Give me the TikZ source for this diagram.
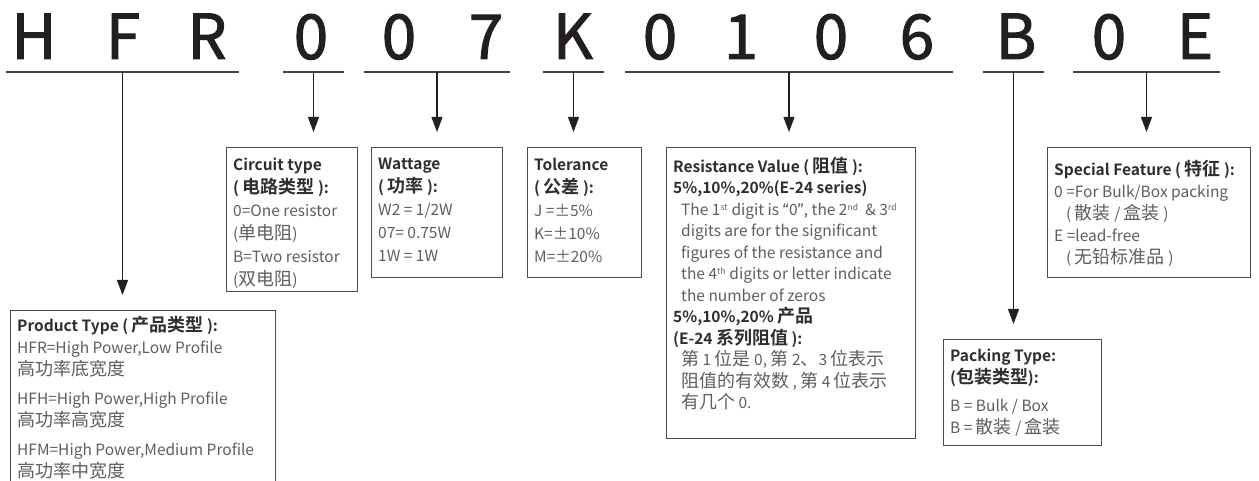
\documentclass[tikz,border=0pt]{standalone}
\usepackage{fontspec}
\setmainfont{Noto Sans CJK SC}[BoldFont={Noto Sans CJK SC Bold}]
\newfontfamily\zhfont{Noto Sans CJK SC}[Scale=1.16, BoldFont={Noto Sans CJK SC Bold}]
\newfontfamily\codefont{Noto Sans CJK SC}[FakeBold=1.6]
\newfontfamily\quotefont{Fira Sans}
\usetikzlibrary{
  arrows.meta,   % Triangle arrow tips
  calc,          % coordinate arithmetic
  positioning    % relative placement
}
\definecolor{ink}{HTML}{231F20}
\definecolor{headc}{HTML}{2E2E2E}
\definecolor{bodyc}{HTML}{5E5E5E}
\newcommand{\boxhead}[1]{{\bfseries\color{headc}#1}}
\newcommand{\zh}[1]{{\zhfont #1}}
\newcommand{\sps}[1]{\textsuperscript{\fontsize{8.5bp}{8.5bp}\selectfont #1}}
\tikzset{
  code letter/.style={
    anchor=base,
    inner sep=0pt,
    text=ink,
    font=\codefont\fontsize{62bp}{62bp}\selectfont
  },
  bar/.style={
    line width=1.4bp,
    draw=ink!85
  },
  lead/.style={
    -{Triangle[length=15bp,width=11bp]},
    line width=1.1bp,
    draw=ink,
    shorten >=15bp
  },
  infobox/.style={
    draw=ink!80,
    line width=0.9bp,
    anchor=north west,
    inner sep=0pt
  },
  infotext/.style={
    anchor=north west,
    align=left,
    inner sep=0pt,
    text=bodyc,
    font=\fontsize{15.5bp}{22bp}\selectfont
  }
}

\begin{document}
\begin{tikzpicture}[x=1bp, y=-1bp]
  \useasboundingbox (0,0) rectangle (1259,481);
  \clip (0,0) rectangle (1259,481);

  % ==== 1. part number ====
  \foreach \ch/\px [count=\i] in {H/34,F/123,R/207,0/311,0/399,7/486,K/573,
                                  0/660,1/741,0/831,6/917,B/1016,0/1109,E/1195}
    \node[code letter] (c\i) at (\px,59) {\ch};

  % underlines, one per field
  \foreach \nm/\xa/\xb in {pt/6/239, ct/283/344, wt/364/510, tl/543/604,
                           rv/625/953, pk/983/1044, sf/1073/1220} {
    \coordinate (\nm-l) at (\xa,72);
    \coordinate (\nm-r) at (\xb,72);
    \coordinate (\nm-m) at ($(\nm-l)!0.5!(\nm-r)$);
    \draw[bar] (\nm-l) -- (\nm-r);
  }

  % ==== 2. field boxes ====
  \node[infobox, minimum width=265bp, minimum height=200bp] (pt) at (10,310) {};
  \node[infobox, minimum width=131bp, minimum height=144bp] (ct) at (226,147) {};
  \node[infobox, minimum width=131bp, minimum height=130bp] (wt) at (371,147) {};
  \node[infobox, minimum width=114bp, minimum height=130bp] (tl) at (527,147) {};
  \node[infobox, minimum width=249bp, minimum height=291bp] (rv) at (666,147) {};
  \node[infobox, minimum width=158bp, minimum height=106bp] (pk) at (943,339) {};
  \node[infobox, minimum width=203bp, minimum height=130bp] (sf) at (1047,147) {};

  % box texts
  \node[infotext] (pt-t) at ([xshift=7bp,yshift=-6bp]pt.north west) {
    \boxhead{Product Type ( \zh{产品类型} ):}\\
    HFR=High Power,Low Profile\\
    \zh{高功率底宽度}\\[7bp]
    HFH=High Power,High Profile\\
    \zh{高功率高宽度}\\[7bp]
    HFM=High Power,Medium Profile\\
    \zh{高功率中宽度}};
  \node[infotext, font=\fontsize{15.5bp}{23bp}\selectfont]
    (ct-t) at ([xshift=7bp,yshift=-11bp]ct.north west) {
    \boxhead{Circuit type}\\
    \boxhead{( \zh{电路类型} ):}\\
    0=One resistor\\
    (\zh{单电阻})\\
    B=Two resistor\\
    (\zh{双电阻})};
  \node[infotext, font=\fontsize{15.5bp}{23bp}\selectfont]
    (wt-t) at ([xshift=7bp,yshift=-11bp]wt.north west) {
    \boxhead{Wattage}\\
    \boxhead{( \zh{功率} ):}\\
    W2 = 1/2W\\
    07= 0.75W\\
    1W = 1W};
  \node[infotext, font=\fontsize{15.5bp}{23bp}\selectfont]
    (tl-t) at ([xshift=7bp,yshift=-11bp]tl.north west) {
    \boxhead{Tolerance}\\
    \boxhead{( \zh{公差} ):}\\
    J =±5\%\\
    K=±10\%\\
    M=±20\%};
  \node[infotext, font=\fontsize{15.5bp}{21.5bp}\selectfont]
    (rv-t) at ([xshift=7bp,yshift=-10bp]rv.north west) {
    \boxhead{Resistance Value ( \zh{阻值} ):}\\
    \boxhead{5\%,10\%,20\%(E-24 series)}\\
    \hspace*{8bp}The 1\sps{st} digit is {\quotefont “}0{\quotefont ”}, the 2\sps{nd}\ \ \& 3\sps{rd}\\
    \hspace*{8bp}digits are for the significant\\
    \hspace*{8bp}figures of the resistance and\\
    \hspace*{8bp}the 4\sps{th} digits or letter indicate\\
    \hspace*{8bp}the number of zeros\\
    \boxhead{5\%,10\%,20\% \zh{产品}}\\
    \boxhead{(E-24 \zh{系列阻值} ):}\\
    \hspace*{8bp}\zh{第} 1 \zh{位是} 0, \zh{第} 2\zh{、}3 \zh{位表示}\\
    \hspace*{8bp}\zh{阻值的有效数} , \zh{第} 4 \zh{位表示}\\
    \hspace*{8bp}\zh{有几个} 0.};
  \node[infotext] (pk-t) at ([xshift=7bp,yshift=-10bp]pk.north west) {
    \boxhead{Packing Type:}\\
    \boxhead{(\zh{包装类型}):}\\[6bp]
    B = Bulk / Box\\
    B = \zh{散装} / \zh{盒装}};
  \node[infotext] (sf-t) at ([xshift=7bp,yshift=-13bp]sf.north west) {
    \boxhead{Special Feature ( \zh{特征} ):}\\
    0 =For Bulk/Box packing\\
    \hspace*{12bp}( \zh{散装} / \zh{盒装} )\\
    E =lead-free\\
    \hspace*{12bp}( \zh{无铅标准品} )};

  % ==== 3. leads from underline to box ====
  \foreach \nm in {pt,ct,wt,tl,rv,pk,sf}
    \draw[lead] (\nm-m) -- (\nm-m |- \nm.north);
\end{tikzpicture}
\end{document}
